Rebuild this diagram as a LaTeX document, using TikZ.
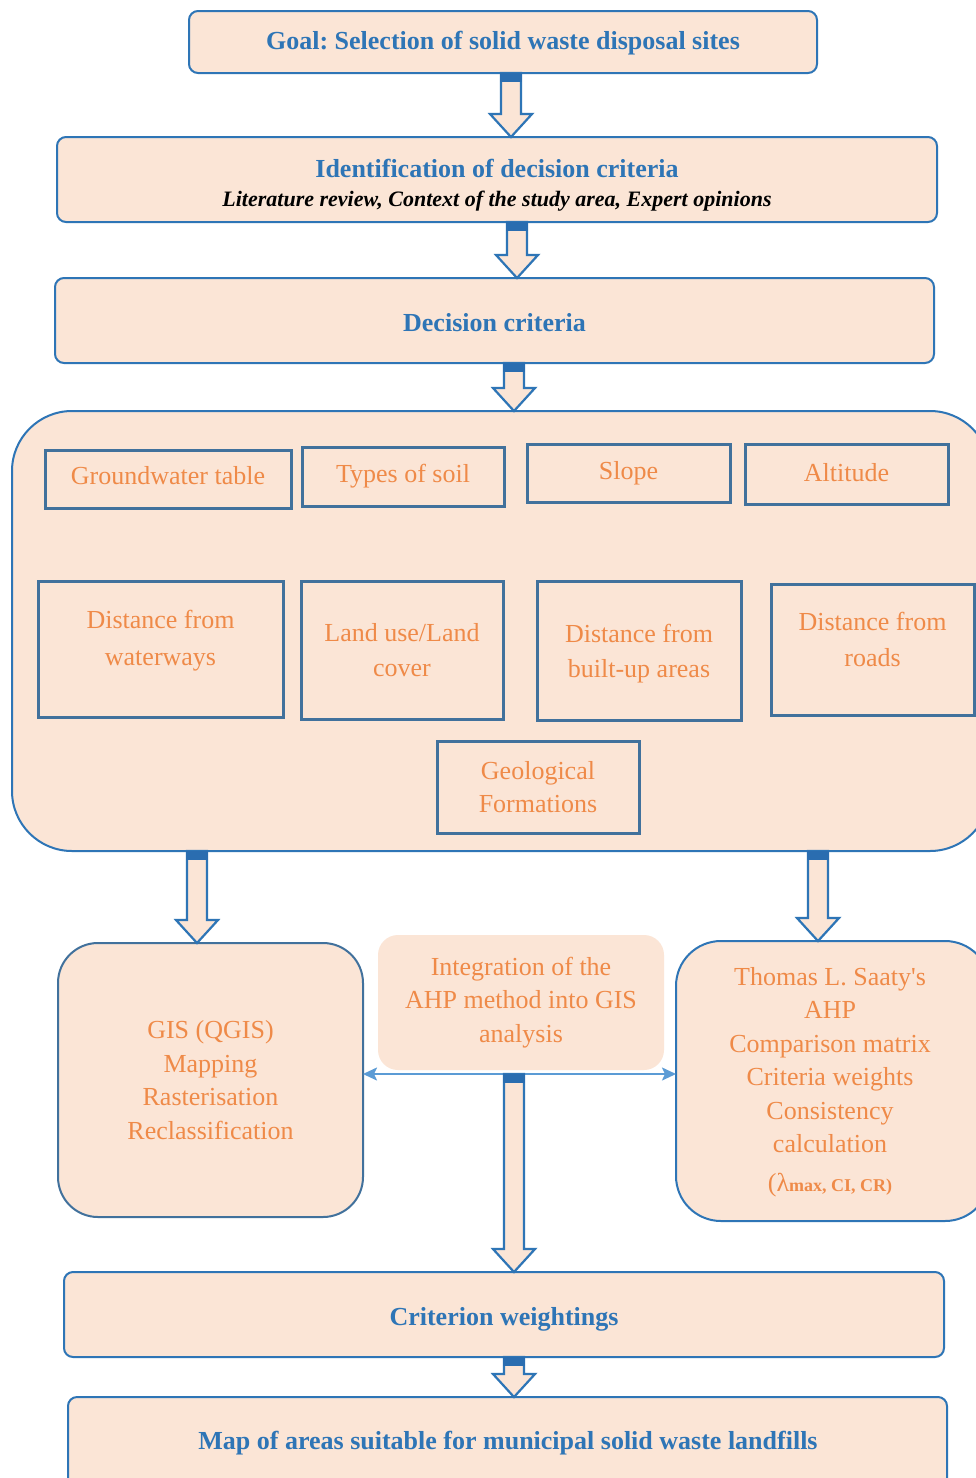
\documentclass[tikz,border=0pt]{standalone}
\usepackage{fontspec}
\setmainfont{Liberation Serif}
\usetikzlibrary{arrows.meta,calc}
\definecolor{pk}{HTML}{FBE5D6}
\definecolor{bl}{HTML}{2E75B6}
\definecolor{sb}{HTML}{41719C}
\definecolor{og}{HTML}{EF8A48}
\definecolor{lb}{HTML}{5B9BD5}
\definecolor{capb}{HTML}{2A6DB0}
\frenchspacing
\newcommand\barrow[3]{%
  \draw[draw=bl, fill=pk, line width=2.2pt, line join=miter]
    let \p1=(#2), \p2=(#3) in
    ({#1pt-10pt},\y1) -- ({#1pt-10pt},{\y2+23pt}) -- ({#1pt-21pt},{\y2+23pt}) -- (#1pt,\y2)
    -- ({#1pt+21pt},{\y2+23pt}) -- ({#1pt+10pt},{\y2+23pt}) -- ({#1pt+10pt},\y1) -- cycle;
  \fill[capb] let \p1=(#2) in ({#1pt-11.1pt},\y1) rectangle ({#1pt+11.1pt},{\y1-9pt});
}
\tikzset{
  tbox/.style={draw=bl, fill=pk, line width=2pt, rounded corners=9pt, text=bl,
    font=\bfseries\fontsize{26}{30}\selectfont, inner sep=0pt, outer sep=0pt, align=center},
  ttext/.style={text=bl, font=\bfseries\fontsize{26}{30}\selectfont, inner sep=0pt, align=center},
  cbox/.style={draw=sb, line width=3pt, text=og, font=\fontsize{26}{35}\selectfont,
    inner sep=0pt, outer sep=0pt, align=center},
  otext/.style={text=og, font=\fontsize{26}{33.5}\selectfont, align=center, inner sep=0pt},
  rbox/.style={fill=pk, line width=2pt, text=og, font=\fontsize{26}{33.5}\selectfont,
    inner sep=0pt, outer sep=0pt, align=center},
}
\begin{document}
\begin{tikzpicture}[x=1pt,y=-1pt]
\useasboundingbox (0,0) rectangle (976,1478);
\clip (0,0) rectangle (976,1478);
\fill[white] (0,0) rectangle (976,1478);

% top boxes
\node[tbox, minimum width=628pt, minimum height=62pt] (goal) at (503,42) {};
\node[ttext] (goalt) at (503,43) {Goal: Selection of solid waste disposal sites};
\node[tbox, minimum width=880pt, minimum height=85pt] (ident) at (497,179.5) {};
\node[ttext] (identt) at (497,185)
  {Identification of decision criteria\\[-1pt]
   {\color{black}\bfseries\itshape\fontsize{22}{25}\selectfont Literature review, Context of the study area, Expert opinions}};
\node[tbox, minimum width=879pt, minimum height=85pt] (dec) at (494.5,320.5) {};
\node[ttext] (dect) at (494.5,323) {Decision criteria};

% big criteria container
\node[draw=bl, fill=pk, line width=2pt, rounded corners=60pt, minimum width=978pt,
  minimum height=440pt, inner sep=0pt, outer sep=0pt] (big) at (501,631) {};

\node[cbox, minimum width=246pt, minimum height=58pt] (gw) at (168,479) {};
\node[otext] (gwt) at (168,476) {Groundwater table};
\node[cbox, minimum width=202pt, minimum height=59pt] (soil) at (403,476.5) {Types of soil};
\node[cbox, minimum width=203pt, minimum height=58pt] (slope) at (628.5,473) {Slope};
\node[cbox, minimum width=203pt, minimum height=60pt] (alt) at (846.5,474) {};
\node[otext] (altt) at (846.5,472.5) {Altitude};

\node[cbox, minimum width=245pt, minimum height=136pt] (water) at (160.5,649) {};
\node[otext, font=\fontsize{26}{37}\selectfont] (watert) at (160.5,641) {Distance from\\waterways};
\node[cbox, minimum width=202pt, minimum height=138pt] (land) at (402,650) {Land use/Land\\cover};
\node[cbox, minimum width=204pt, minimum height=139pt] (built) at (639,651) {};
\node[otext, font=\fontsize{26}{35}\selectfont] (builtt) at (639,653.5) {Distance from\\built-up areas};
\node[cbox, minimum width=203pt, minimum height=131pt] (roads) at (872.5,649.5) {};
\node[otext, font=\fontsize{26}{36}\selectfont] (roadst) at (872.5,639) {Distance from\\roads};
\node[cbox, minimum width=202pt, minimum height=92pt, font=\fontsize{26}{33}\selectfont] (geo) at (538,787) {Geological\\Formations};

% lower boxes
\node[rbox, draw=sb, rounded corners=40pt, minimum width=305pt, minimum height=274pt] (gis) at (210.5,1080)
  {GIS (QGIS)\\Mapping\\Rasterisation\\Reclassification};
\node[rbox, rounded corners=20pt, minimum width=286pt, minimum height=135pt] (mid) at (521,1002.5)
  {Integration of the\\AHP method into GIS\\analysis};
\node[rbox, draw=bl, rounded corners=45pt, minimum width=314pt, minimum height=280pt] (sat) at (833,1081) {};
\node[otext] (satt) at (830,1082)
  {Thomas L. Saaty\textquotesingle s\\AHP\\Comparison matrix\\Criteria weights\\Consistency\\calculation\\[5pt]
   {\fontsize{26}{30}\selectfont(λ}{\bfseries\fontsize{18}{30}\selectfont max, CI, CR)}};

\node[tbox, minimum width=880pt, minimum height=85pt] (crit) at (504,1314.5) {};
\node[ttext] (critt) at (504,1319.5) {Criterion weightings};
\node[tbox, minimum width=879pt, minimum height=90pt] (map) at (507.5,1442) {};
\node[ttext] (mapt) at (508,1443) {Map of areas suitable for municipal solid waste landfills};

% connectors
\coordinate (lineY) at (514,1074);
\draw[lb, line width=2pt, {Stealth[length=14pt,width=13pt,inset=3pt]}-{Stealth[length=14pt,width=13pt,inset=3pt]}]
  (gis.east |- lineY) -- (sat.west |- lineY);

\barrow{511}{goal.south}{ident.north}
\barrow{517}{ident.south}{dec.north}
\barrow{514}{dec.south}{big.north}
\barrow{197}{big.south}{gis.north}
\barrow{818}{big.south}{sat.north}
\barrow{514}{lineY}{crit.north}
\barrow{514}{crit.south}{map.north}
\end{tikzpicture}
\end{document}
